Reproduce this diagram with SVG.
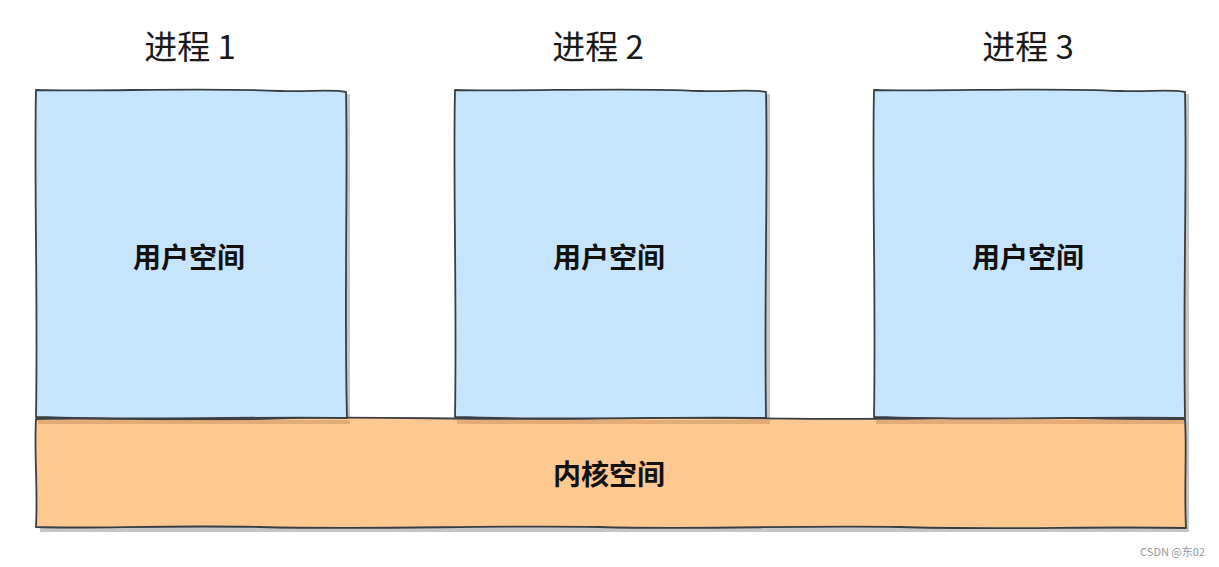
<svg xmlns="http://www.w3.org/2000/svg" width="1219" height="567" viewBox="0 0 1219 567">
<style>
.box{stroke:#3a3f44;stroke-width:1.8;stroke-linejoin:round}
.user{fill:#c6e4fc}
.kern{fill:#fec891}
.sh{fill:#b8b8b8;opacity:.8}
.ish{fill:#d9a06a;opacity:.7}
.title{font-family:"Noto Sans CJK SC","Noto Sans",sans-serif;font-size:33px;fill:#1a1a1a;text-anchor:middle}
.lbl{font-family:"Noto Sans CJK SC","Noto Sans",sans-serif;font-size:28px;font-weight:bold;fill:#111;text-anchor:middle}
.wm{font-family:"Noto Sans CJK SC","Liberation Sans",sans-serif;font-size:11px;fill:#999;text-anchor:end}
</style>
<rect width="1219" height="567" fill="#fff"/>
<g id="shadows">
<rect class="sh" x="40" y="94" width="310" height="328"/>
<rect class="sh" x="459" y="94" width="311" height="328"/>
<rect class="sh" x="878" y="94" width="311" height="328"/>
<rect class="sh" x="40" y="422" width="1149" height="110"/>
</g>
<g id="kernel">
<path class="box kern" d="M36,419 C120,417 200,422 290,418 C400,416 480,421 600,418 C720,416 820,421 940,418 C1040,416 1120,420 1185,419 C1187,450 1184,490 1186,528 C1100,526 1000,530 900,527 C800,525 700,530 600,527 C480,525 380,530 260,527 C160,525 90,529 36,527 C38,490 34,450 36,419 Z"/>
<rect class="ish" x="38" y="420" width="312" height="4"/>
<rect class="ish" x="457" y="420" width="313" height="4"/>
<rect class="ish" x="876" y="420" width="308" height="4"/>
<text class="lbl" x="609" y="485">内核空间</text>
</g>
<g id="proc1">
<path class="box user" d="M36,90 C100,92 200,87 280,91 C310,92 330,89 346,92 C348,180 344,300 347,418 C260,416 160,421 36,417 C38,300 34,180 36,90 Z"/>
<text class="title" x="190" y="59">进程 1</text>
<text class="lbl" x="189" y="268">用户空间</text>
</g>
<g id="proc2">
<path class="box user" d="M455,90 C520,92 620,87 700,91 C730,92 750,89 766,92 C768,180 764,300 766,418 C680,416 580,421 455,417 C457,300 453,180 455,90 Z"/>
<text class="title" x="598" y="59">进程 2</text>
<text class="lbl" x="609" y="268">用户空间</text>
</g>
<g id="proc3">
<path class="box user" d="M874,90 C940,92 1040,87 1120,91 C1150,92 1170,89 1185,92 C1187,180 1183,300 1185,418 C1100,416 1000,421 874,417 C876,300 872,180 874,90 Z"/>
<text class="title" x="1028" y="59">进程 3</text>
<text class="lbl" x="1028" y="268">用户空间</text>
</g>
<g id="connectors"></g>
<text class="wm" x="1205" y="556">CSDN @东02</text>
</svg>
